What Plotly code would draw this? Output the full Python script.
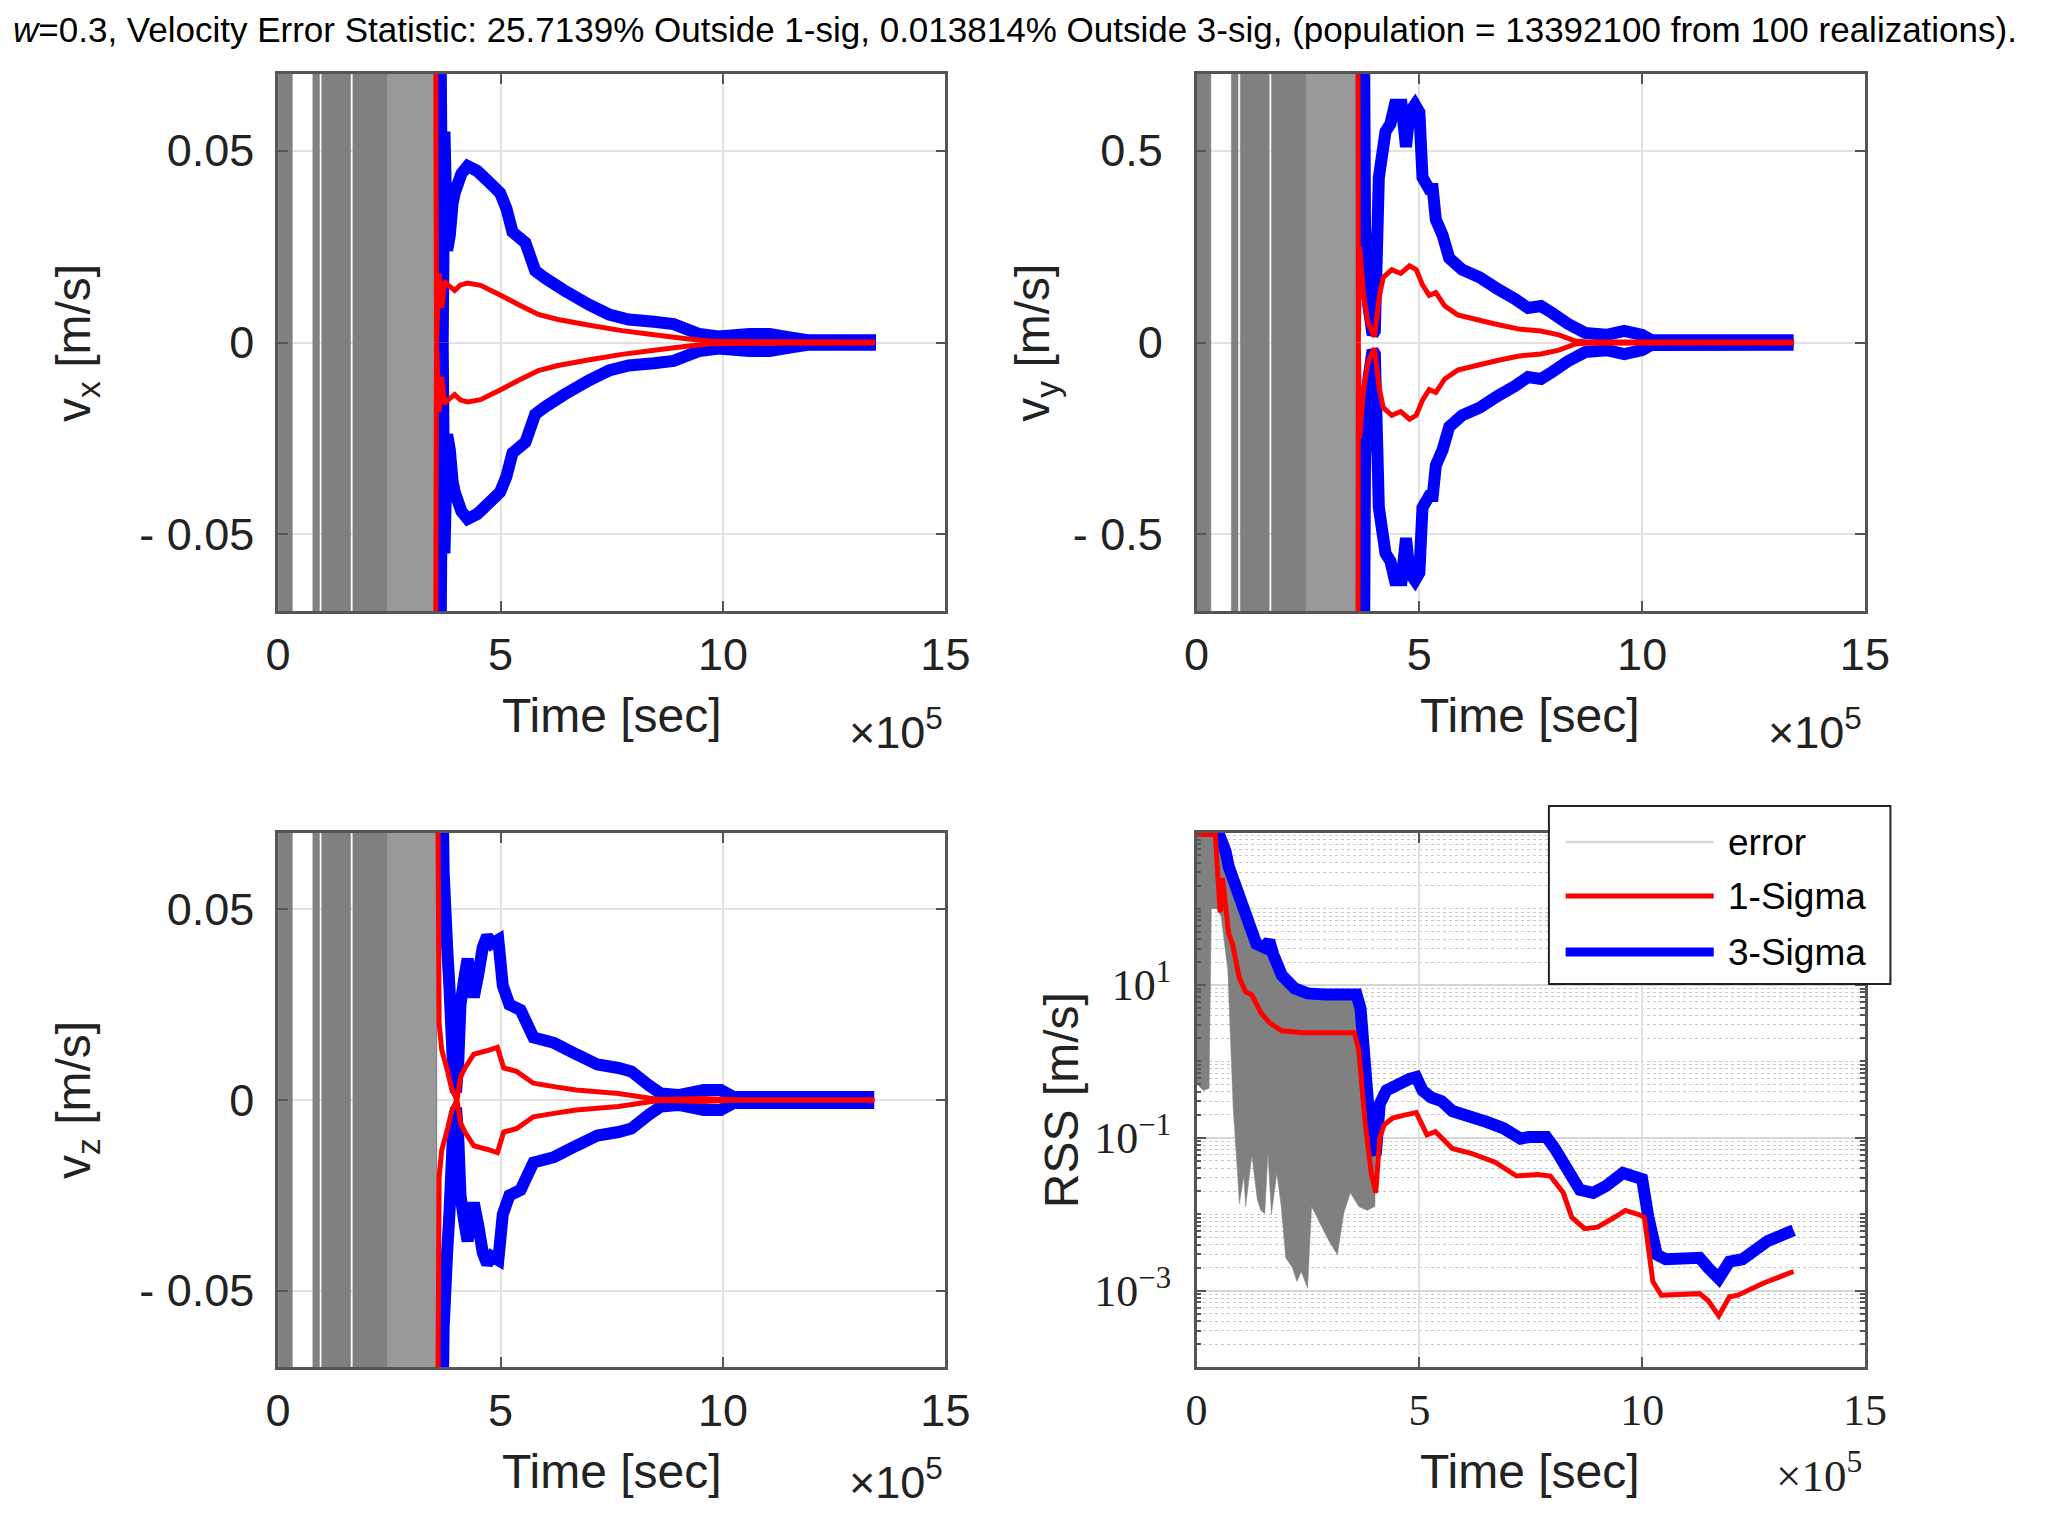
import numpy as np
import plotly.graph_objects as go

# the page body has an 8 px margin on every side: keep the figure inside the
# window (no scrollbars) and lay out in window pixels shifted by that margin
PAGE_W, PAGE_H, BODY = 2050, 1516, 8
FW, FH = PAGE_W - 2 * BODY, PAGE_H - 2 * BODY


def px(x):
    return (x - BODY) / FW


def py(y):
    return 1 - (y - BODY) / FH


title_text = ("<i>w</i>=0.3, Velocity Error Statistic: 25.7139% Outside 1-sig, 0.013814% Outside 3-sig, "
              "(population = 13392100 from 100 realizations).")

# time axis (units of 1e5 s)
x_tickvals_e5 = [0, 5, 10, 15]
x_ticktext = ["0", "5", "10", "15"]

# velocity axes
vx_lim = 0.07
vy_lim = 0.7
vz_lim = 0.07
vx_tickvals = [-0.05, 0, 0.05]
vx_ticktext = ["- 0.05", "0", "0.05"]
vy_tickvals = [-0.5, 0, 0.5]
vy_ticktext = ["- 0.5", "0", "0.5"]

# dense mass of gray error realizations (time spans, 1e5 s, that fill the whole axis)
err_band_start = [0.0, 0.78, 0.98, 1.68]
err_band_end = [0.32, 0.93, 1.63, 3.57]
err_streak_start = [2.45]
err_streak_end = [3.55]

# ---- v_x ----
vx_sig1_t = [3.54, 3.56, 3.62, 3.68, 3.74, 3.83, 3.97, 4.10, 4.26, 4.55, 4.99, 5.42, 5.85, 6.29,
             7.00, 7.73, 8.45, 9.18, 9.75, 11.34, 13.42]
vx_sig1 = [0.10, 0.0, 0.018, 0.009, 0.016, 0.0149, 0.0136, 0.0150, 0.0155, 0.0149, 0.0124, 0.0098,
           0.0073, 0.0060, 0.0045, 0.0031, 0.0020, 0.0010, 0.0003, 0.0002, 0.0001]
vx_sig3_t = [3.64, 3.70, 3.74, 3.80, 3.86, 3.92, 3.97, 4.12, 4.26, 4.48, 4.77, 4.99, 5.13, 5.27,
             5.56, 5.78, 6.00, 6.43, 7.00, 7.44, 7.88, 8.45, 8.89, 9.47, 9.90, 10.6, 11.05, 11.5,
             11.9, 13.44]
vx_sig3 = [0.10, 0.0, 0.055, 0.024, 0.028, 0.036, 0.039, 0.044, 0.046, 0.0447, 0.0415, 0.039,
           0.035, 0.0288, 0.026, 0.0187, 0.0168, 0.0136, 0.0098, 0.0073, 0.0060, 0.0054, 0.0048,
           0.0022, 0.0016, 0.0022, 0.0022, 0.0013, 0.0006, 0.0006]

# ---- v_y ----
vy_sig1_t = [3.62, 3.63, 3.66, 3.75, 3.85, 3.99, 4.10, 4.19, 4.38, 4.58, 4.78, 4.93, 5.07, 5.22,
             5.37, 5.57, 5.86, 6.35, 6.75, 7.24, 7.73, 8.13, 8.50, 8.72, 10.0, 13.4]
vy_sig1 = [1.0, 0.0, 0.25, 0.12, 0.05, 0.015, 0.12, 0.17, 0.19, 0.18, 0.20, 0.19, 0.15, 0.123,
           0.13, 0.095, 0.072, 0.058, 0.047, 0.035, 0.030, 0.020, 0.004, 0.002, 0.001, 0.001]
vy_sig3_t = [3.75, 3.78, 3.85, 3.95, 4.00, 4.05, 4.09, 4.24, 4.35, 4.45, 4.60, 4.70, 4.78, 4.90,
             5.00, 5.07, 5.22, 5.30, 5.37, 5.52, 5.67, 5.96, 6.35, 6.75, 7.14, 7.44, 7.73, 7.98,
             8.33, 8.72, 9.20, 9.60, 10.0, 10.2, 13.4]
vy_sig3 = [1.0, 0.30, 0.10, 0.02, 0.03, 0.25, 0.43, 0.55, 0.57, 0.62, 0.62, 0.51, 0.60, 0.62,
           0.60, 0.43, 0.40, 0.40, 0.32, 0.28, 0.22, 0.19, 0.17, 0.14, 0.114, 0.09, 0.095, 0.077,
           0.049, 0.025, 0.020, 0.030, 0.020, 0.0065, 0.006]

# ---- v_z ----
vz_sig1_t = [3.58, 3.62, 3.68, 3.80, 3.90, 4.02, 4.10, 4.20, 4.40, 4.55, 4.69, 4.93, 5.07, 5.36,
             5.74, 6.20, 6.70, 7.65, 8.33, 8.60, 9.57, 9.95, 10.3, 13.4]
vz_sig1 = [0.10, 0.020, 0.013, 0.008, 0.003, 0.0, 0.006, 0.0084, 0.012, 0.0125, 0.0129, 0.0138,
           0.0084, 0.0075, 0.0044, 0.0035, 0.0026, 0.0017, 0.0005, 0.0001, 0.0004, 0.0002, 0.0, 0.0]
vz_sig3_t = [3.68, 3.72, 3.80, 3.85, 3.92, 4.00, 4.05, 4.10, 4.20, 4.26, 4.33, 4.40, 4.50, 4.60,
             4.70, 4.80, 4.95, 5.05, 5.20, 5.45, 5.74, 6.20, 6.70, 7.18, 7.65, 7.94, 8.33, 8.60,
             9.00, 9.57, 9.95, 10.24, 13.4]
vz_sig3 = [0.10, 0.06, 0.04, 0.03, 0.012, 0.002, 0.010, 0.025, 0.033, 0.037, 0.031, 0.027, 0.033,
           0.040, 0.043, 0.041, 0.042, 0.030, 0.025, 0.0236, 0.0164, 0.015, 0.012, 0.0093, 0.0084,
           0.0075, 0.0039, 0.0017, 0.0013, 0.0026, 0.0026, 0.0008, 0.0008]

# ---- RSS (log10 of m/s) ----
rss_range_log = [-4, 2.99]
rss_tickvals = [1e-3, 1e-1, 1e1]
rss_ticktext = ["10<sup>−3</sup>", "10<sup>−1</sup>", "10<sup>1</sup>"]

rss_sig1_t = [0.0, 0.42, 0.48, 0.53, 0.58, 0.65, 0.72, 0.80, 0.90, 0.96, 1.10, 1.24, 1.44, 1.63,
              1.91, 2.40, 3.54, 3.64, 3.78, 3.92, 4.02, 4.11, 4.21, 4.40, 4.69, 4.93, 5.17, 5.36,
              5.74, 6.20, 6.70, 7.18, 7.66, 7.94, 8.23, 8.42, 8.71, 9.00, 9.38, 9.62, 9.95, 10.05,
              10.24, 10.43, 11.29, 11.48, 11.72, 11.96, 12.15, 12.73, 13.4]
rss_sig1_log = [2.97, 2.97, 2.4, 1.95, 2.4, 2.0, 1.67, 1.55, 1.3, 1.09, 0.91, 0.87, 0.64, 0.51,
                0.40, 0.375, 0.375, 0.15, -0.79, -1.46, -1.72, -1.0, -0.83, -0.74, -0.70, -0.67,
                -0.96, -0.92, -1.14, -1.21, -1.32, -1.5, -1.48, -1.5, -1.72, -2.04, -2.19, -2.17,
                -2.04, -1.95, -2.01, -2.04, -2.88, -3.06, -3.04, -3.13, -3.33, -3.08, -3.06, -2.9,
                -2.75]
rss_sig3_t = [0.42, 0.50, 0.58, 0.65, 0.72, 0.77, 0.86, 0.96, 1.05, 1.15, 1.34, 1.53, 1.63, 1.72,
              1.91, 2.20, 2.49, 2.87, 3.59, 3.68, 3.78, 3.88, 4.02, 4.11, 4.26, 4.50, 4.78, 4.93,
              5.07, 5.26, 5.50, 5.74, 6.12, 6.50, 6.89, 7.27, 7.46, 7.85, 8.04, 8.33, 8.60, 8.90,
              9.19, 9.57, 9.86, 10.0, 10.14, 10.33, 10.53, 11.29, 11.48, 11.72, 11.96, 12.25, 12.82,
              13.3, 13.4]
rss_sig3_log = [3.1, 3.0, 2.85, 2.75, 2.55, 2.47, 2.25, 2.16, 1.98, 1.76, 1.54, 1.49, 1.58, 1.40,
                1.13, 0.955, 0.89, 0.875, 0.875, 0.69, -0.116, -0.786, -1.23, -0.56, -0.38, -0.29,
                -0.23, -0.205, -0.38, -0.47, -0.52, -0.65, -0.70, -0.79, -0.875, -1.01, -0.99, -0.99,
                -1.14, -1.46, -1.68, -1.72, -1.63, -1.46, -1.52, -1.54, -2.04, -2.53, -2.59, -2.57,
                -2.70, -2.84, -2.62, -2.59, -2.35, -2.24, -2.21]
rss_err_top_t = [0.0, 0.45, 0.55, 0.65, 0.72, 0.86, 0.96, 1.05, 1.15, 1.34, 1.53, 1.72, 1.91, 2.20,
                 2.49, 3.59, 3.68, 3.78, 3.88, 4.02]
rss_err_top_log = [3.0, 3.0, 2.9, 2.75, 2.55, 2.25, 2.16, 1.98, 1.76, 1.54, 1.49, 1.40, 1.13, 0.955,
                   0.89, 0.87, 0.69, -0.116, -0.786, -1.23]
rss_err_bot_t = [0.0, 0.15, 0.28, 0.33, 0.45, 0.55, 0.70, 0.82, 0.90, 0.96, 1.06, 1.10, 1.24, 1.36,
                 1.44, 1.53, 1.60, 1.68, 1.80, 1.90, 2.00, 2.15, 2.25, 2.35, 2.49, 2.58, 2.78, 2.97,
                 3.16, 3.30, 3.45, 3.64, 3.83, 4.0, 4.02]
rss_err_bot_log = [-0.29, -0.38, -0.35, 2.0, 2.0, 1.9, 1.2, -0.6, -1.3, -1.86, -1.5, -1.9, -1.23,
                   -1.8, -1.95, -1.99, -1.2, -2.0, -1.46, -1.9, -2.57, -2.7, -2.88, -2.75, -2.97,
                   -1.9, -2.13, -2.35, -2.53, -1.99, -1.72, -1.9, -1.95, -1.9, -1.35]

legend_labels = ["error", "1-Sigma", "3-Sigma"]

# ---------------- styling ----------------
SANS = "Liberation Sans, Arial, Helvetica, sans-serif"
SERIF = "Liberation Serif, Times New Roman, serif"
GRAY = "#808080"
RED = "#ff0000"
BLUE = "#0000ff"
AX = "#555555"
GRID = "#e2e2e2"
TXT = "#222222"

fig = go.Figure()
E5 = 1e5


def band_trace(lim, xa, ya):
    xs, ys = [], []
    for a, b in zip(err_band_start, err_band_end):
        xs += [a * E5, a * E5, b * E5, b * E5, a * E5, None]
        ys += [-lim, lim, lim, -lim, -lim, None]
    fig.add_trace(go.Scatter(x=xs, y=ys, mode="lines", fill="toself", fillcolor=GRAY,
                             line=dict(color=GRAY, width=0.5), xaxis=xa, yaxis=ya,
                             showlegend=False, hoverinfo="skip"))
    for a, b in zip(err_streak_start, err_streak_end):
        fig.add_trace(go.Scatter(x=[a * E5, a * E5, b * E5, b * E5, a * E5],
                                 y=[-lim, lim, lim, -lim, -lim], mode="lines", fill="toself",
                                 fillcolor="rgba(255,255,255,0.2)", line=dict(width=0),
                                 xaxis=xa, yaxis=ya, showlegend=False, hoverinfo="skip"))


def sigma_pair(t, v, color, width, xa, ya):
    tt = np.array(t) * E5
    vv = np.array(v)
    for sgn in (1, -1):
        fig.add_trace(go.Scatter(x=tt, y=sgn * vv, mode="lines",
                                 line=dict(color=color, width=width, simplify=False),
                                 xaxis=xa, yaxis=ya, showlegend=False, hoverinfo="skip"))


for (lim, s1t, s1, s3t, s3, xa, ya) in [
        (vx_lim, vx_sig1_t, vx_sig1, vx_sig3_t, vx_sig3, "x", "y"),
        (vy_lim, vy_sig1_t, vy_sig1, vy_sig3_t, vy_sig3, "x2", "y2"),
        (vz_lim, vz_sig1_t, vz_sig1, vz_sig3_t, vz_sig3, "x3", "y3")]:
    band_trace(lim * 1.5, xa, ya)
    sigma_pair(s3t, s3, BLUE, 12, xa, ya)
    sigma_pair(s1t, s1, RED, 5, xa, ya)

# RSS panel
err_x = list(np.array(rss_err_top_t) * E5) + list(np.array(rss_err_bot_t)[::-1] * E5)
err_y = list(np.power(10.0, rss_err_top_log)) + list(np.power(10.0, rss_err_bot_log)[::-1])
fig.add_trace(go.Scatter(x=err_x, y=err_y, mode="lines", fill="toself", fillcolor=GRAY,
                         line=dict(color=GRAY, width=0.5), xaxis="x4", yaxis="y4",
                         name=legend_labels[0], showlegend=False, hoverinfo="skip"))
fig.add_trace(go.Scatter(x=np.array(rss_sig3_t) * E5, y=np.power(10.0, rss_sig3_log), mode="lines",
                         line=dict(color=BLUE, width=12), xaxis="x4", yaxis="y4",
                         name=legend_labels[2], showlegend=False, hoverinfo="skip"))
fig.add_trace(go.Scatter(x=np.array(rss_sig1_t) * E5, y=np.power(10.0, rss_sig1_log), mode="lines",
                         line=dict(color=RED, width=5), xaxis="x4", yaxis="y4",
                         name=legend_labels[1], showlegend=False, hoverinfo="skip"))

# ---------------- axes ----------------
xl = [px(270), px(950)]
xr = [px(1206), px(1887)]
yt = [py(611), py(74)]
yb = [py(1367), py(833)]


def xax(domain, anchor, font):
    return dict(domain=domain, anchor=anchor, range=[0, 15 * E5], tickmode="array",
                tickvals=[v * E5 for v in x_tickvals_e5], ticktext=x_ticktext,
                showline=True, linecolor=AX, linewidth=2.5, mirror="ticks", ticks="inside",
                ticklen=10, tickwidth=2, tickcolor=AX, showgrid=True, gridcolor=GRID,
                gridwidth=2, zeroline=False, tickfont=font, ticklabelstandoff=2)


def yax(domain, anchor, lim, tv, tt, font, stand):
    return dict(domain=domain, anchor=anchor, range=[-lim, lim], tickmode="array",
                tickvals=tv, ticktext=tt, showline=True, linecolor=AX, linewidth=2.5,
                mirror="ticks", ticks="inside", ticklen=10, tickwidth=2, tickcolor=AX,
                showgrid=True, gridcolor=GRID, gridwidth=2, zeroline=False, tickfont=font,
                ticklabelstandoff=stand)


sans_tick = dict(family=SANS, size=45, color=TXT)
serif_tick = dict(family=SERIF, size=44, color=TXT)

layout = dict(
    width=FW, height=FH, margin=dict(l=0, r=0, t=0, b=0),
    paper_bgcolor="white", plot_bgcolor="white", showlegend=False,
    xaxis=xax(xl, "y", sans_tick),
    yaxis=yax(yt, "x", vx_lim, vx_tickvals, vx_ticktext, sans_tick, 12),
    xaxis2=xax(xr, "y2", sans_tick),
    yaxis2=yax(yt, "x2", vy_lim, vy_tickvals, vy_ticktext, sans_tick, 22),
    xaxis3=xax(xl, "y3", sans_tick),
    yaxis3=yax(yb, "x3", vz_lim, vx_tickvals, vx_ticktext, sans_tick, 12),
    xaxis4=xax(xr, "y4", serif_tick),
    yaxis4=dict(domain=yb, anchor="x4", type="log", range=rss_range_log, tickmode="array",
                tickvals=rss_tickvals, ticktext=rss_ticktext, showline=True, linecolor=AX,
                linewidth=2.5, mirror="ticks", ticks="inside", ticklen=10, tickwidth=2,
                tickcolor=AX, showgrid=True, gridcolor="#d6d6d6", gridwidth=2, zeroline=False,
                tickfont=serif_tick, ticklabelstandoff=14,
                minor=dict(dtick="D1", showgrid=True, gridcolor="#c8c8c8", griddash="dot",
                           gridwidth=1.2, ticks="inside", ticklen=5, tickcolor=AX)),
)
fig.update_layout(**layout)

ann = []
ann.append(dict(text=title_text, x=px(1021), y=py(29), xref="paper", yref="paper",
                xanchor="center", yanchor="middle", showarrow=False,
                font=dict(family=SANS, size=35, color="black")))
for cx, cy in [(610, 715), (1546, 715), (610, 1471), (1546, 1471)]:
    ann.append(dict(text="Time [sec]", x=px(cx), y=py(cy), xref="paper", yref="paper",
                    xanchor="center", yanchor="middle", showarrow=False,
                    font=dict(family=SANS, size=48, color=TXT)))
for rx, cy in [(950, 729), (1886, 729), (950, 1479)]:
    ann.append(dict(text="×10<sup>5</sup>", x=px(rx), y=py(cy), xref="paper", yref="paper",
                    xanchor="right", yanchor="middle", showarrow=False,
                    font=dict(family=SANS, size=45, color=TXT)))
ann.append(dict(text="×10<sup>5</sup>", x=px(1886), y=py(1472), xref="paper", yref="paper",
                xanchor="right", yanchor="middle", showarrow=False,
                font=dict(family=SERIF, size=45, color=TXT)))
for lab, cx, cy in [("v<sub>x</sub> [m/s]", 65, 343), ("v<sub>y</sub> [m/s]", 1042, 343),
                    ("v<sub>z</sub> [m/s]", 65, 1100), ("RSS [m/s]", 1068, 1100)]:
    ann.append(dict(text=lab, x=px(cx), y=py(cy), xref="paper", yref="paper",
                    xanchor="center", yanchor="middle", textangle=-90, showarrow=False,
                    font=dict(family=SANS, size=48, color=TXT)))

# legend (box, sample lines, labels)
shapes = [dict(type="rect", xref="paper", yref="paper", x0=px(1565), x1=px(1913),
               y0=py(984), y1=py(806), fillcolor="white",
               line=dict(color="#222222", width=2), layer="above")]
for lab, yy, col, wd in [(legend_labels[0], 842, "#d9d9d9", 2.5),
                         (legend_labels[1], 896, RED, 5),
                         (legend_labels[2], 952, BLUE, 9)]:
    shapes.append(dict(type="line", xref="paper", yref="paper", x0=px(1582), x1=px(1733),
                       y0=py(yy), y1=py(yy), line=dict(color=col, width=wd), layer="above"))
    ann.append(dict(text=lab, x=px(1745), y=py(yy), xref="paper", yref="paper",
                    xanchor="left", yanchor="middle", showarrow=False,
                    font=dict(family=SANS, size=37, color="black")))

fig.update_layout(annotations=ann, shapes=shapes)
fig.write_html("out.html")
